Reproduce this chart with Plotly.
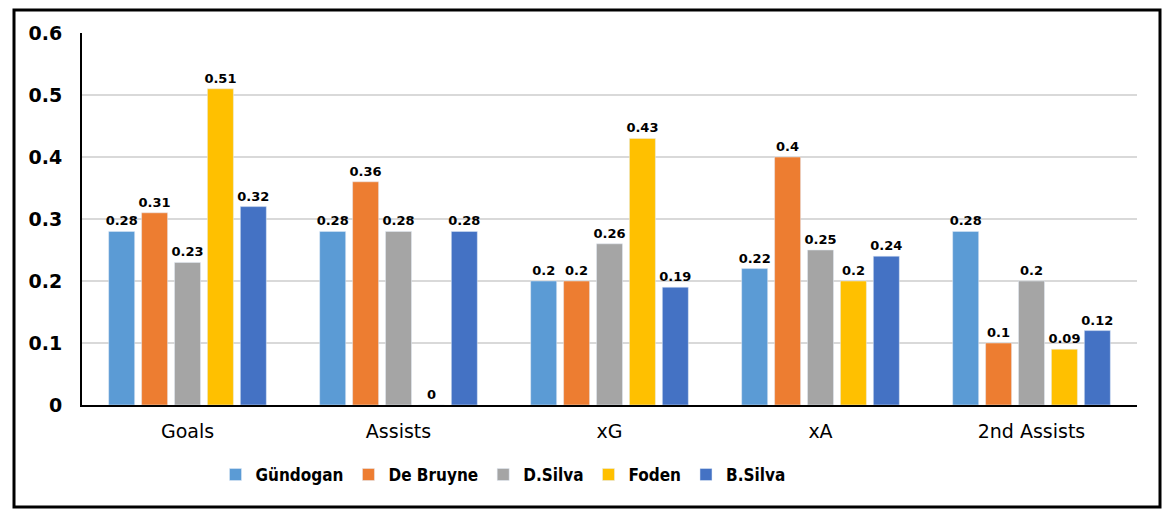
import plotly.graph_objects as go

categories = ["Goals", "Assists", "xG", "xA", "2nd Assists"]
players = ["Gündogan", "De Bruyne", "D.Silva", "Foden", "B.Silva"]
gundogan = [0.28, 0.28, 0.2, 0.22, 0.28]
de_bruyne = [0.31, 0.36, 0.2, 0.4, 0.1]
d_silva = [0.23, 0.28, 0.26, 0.25, 0.2]
foden = [0.51, 0, 0.43, 0.2, 0.09]
b_silva = [0.32, 0.28, 0.19, 0.24, 0.12]
series = [gundogan, de_bruyne, d_silva, foden, b_silva]
colors = ["#5B9BD5", "#ED7D31", "#A5A5A5", "#FFC000", "#4472C4"]
y_ticks = [0, 0.1, 0.2, 0.3, 0.4, 0.5, 0.6]

fig = go.Figure()
for name, vals, col in zip(players, series, colors):
    fig.add_trace(go.Bar(
        x=categories, y=vals, name=name, marker_color=col,
        text=[f"{v:g}" for v in vals], textposition="outside",
        constraintext="none",
        textfont=dict(family="DejaVu Sans", size=13, color="black", weight="bold"),
        cliponaxis=False,
    ))

W, H = 1176, 520
ml, mr, mt, mb = 82, 39, 33, 115
pw, ph = W - ml - mr, H - mt - mb

fig.update_layout(
    width=W, height=H,
    margin=dict(l=ml, r=mr, t=mt, b=mb),
    paper_bgcolor="white", plot_bgcolor="white",
    barmode="group", bargap=0.22, bargroupgap=0.21,
    font=dict(family="DejaVu Sans", color="black"),
    showlegend=True,
    legend=dict(orientation="h", x=(503 - ml) / pw, xanchor="center", y=-0.188, yanchor="middle",
                font=dict(family="DejaVu Sans Condensed", size=17, color="black", weight="bold"),
                itemwidth=30, traceorder="normal"),
    xaxis=dict(showline=True, linecolor="black", linewidth=2, ticks="",
               ticklabelstandoff=8,
               tickfont=dict(family="DejaVu Sans", size=19, color="black")),
    yaxis=dict(range=[0, 0.6], tickvals=y_ticks, ticktext=[f"{v:g}" for v in y_ticks],
               showline=True, linecolor="black", linewidth=2,
               showgrid=True, gridcolor="#D9D9D9", gridwidth=2, zeroline=False,
               ticks="", ticklabelstandoff=14,
               tickfont=dict(family="DejaVu Sans", size=19, color="black", weight="bold")),
    shapes=[dict(type="rect", xref="paper", yref="paper",
                 x0=(14 - ml) / pw, x1=(1160 - ml) / pw,
                 y0=(H - mb - 507) / ph, y1=(H - mb - 10) / ph,
                 line=dict(color="black", width=3), fillcolor="rgba(0,0,0,0)", layer="below")],
)

fig.write_html("out.html", config={"displayModeBar": False},
               post_script="document.body.style.margin='0px';")
